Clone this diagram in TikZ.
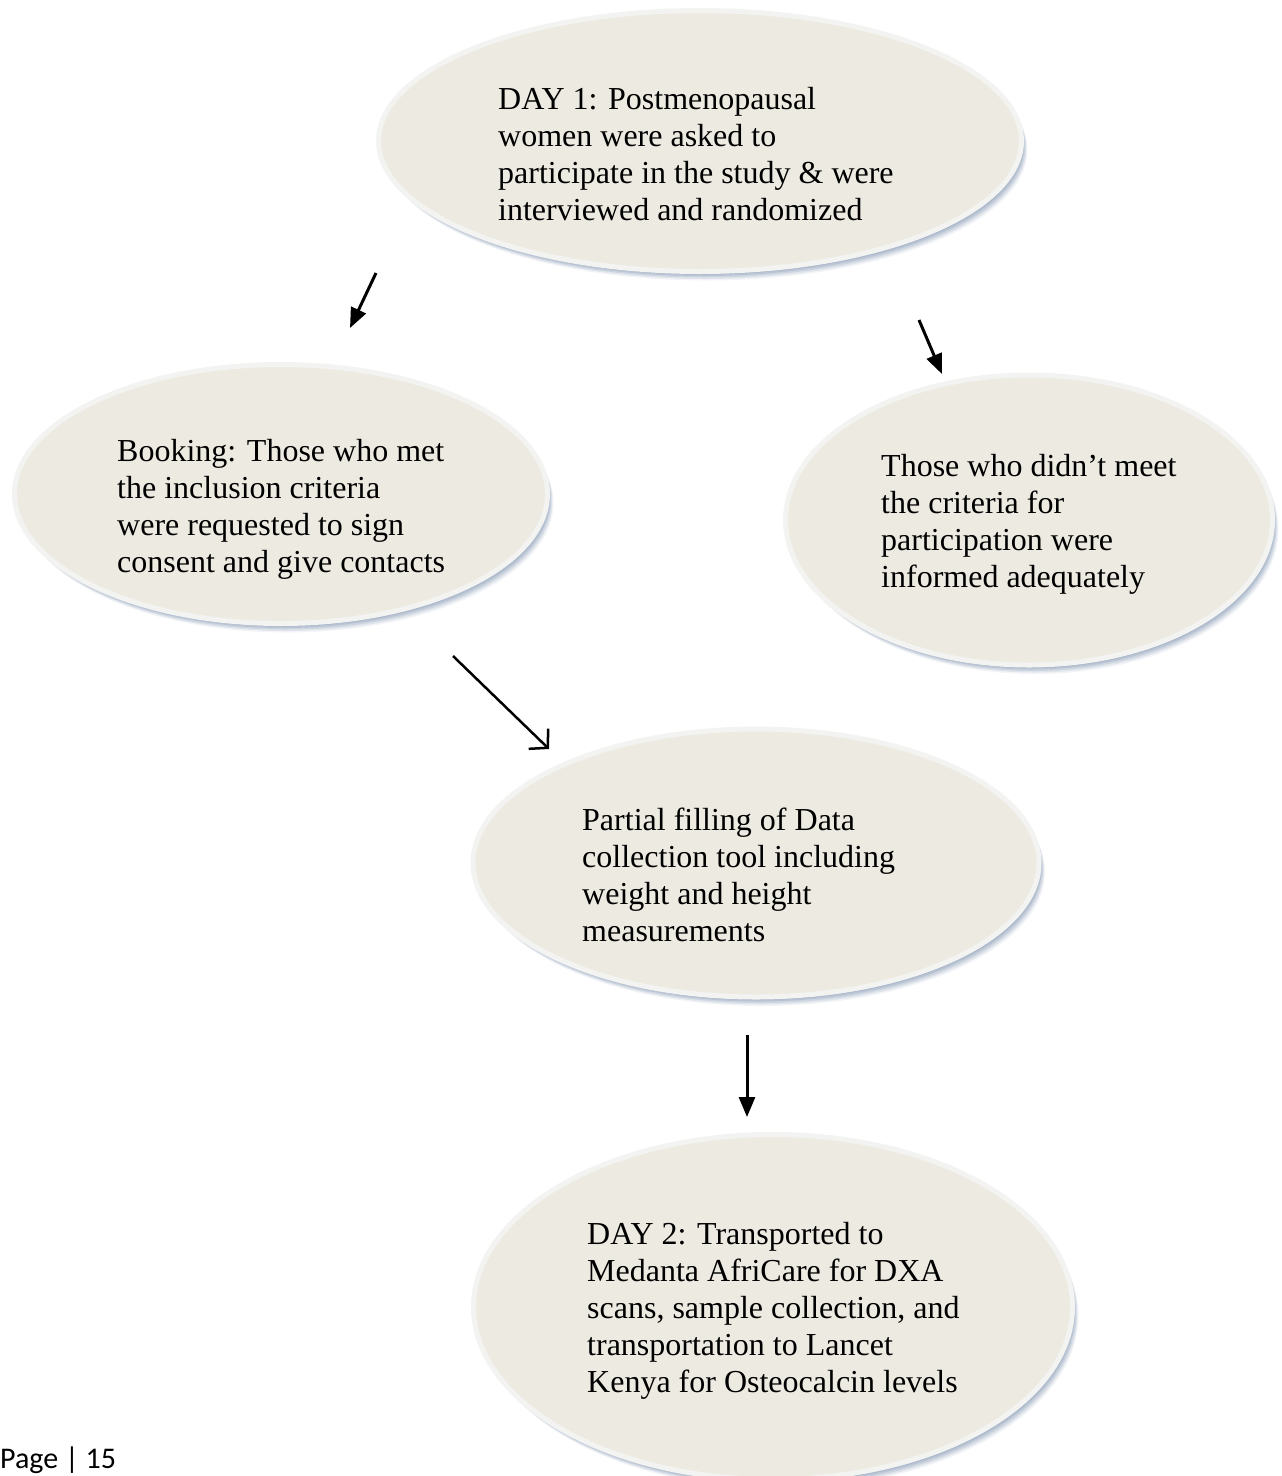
\documentclass[tikz,border=0pt]{standalone}
\usepackage{fontspec}
\setmainfont{Liberation Serif}
\newfontfamily\pagefont{Carlito}
\usetikzlibrary{arrows.meta,shapes.geometric,shadows}
\definecolor{ellfill}{HTML}{EDEBE1}
\definecolor{ellrim}{HTML}{F3F3F2}
\definecolor{shadowc}{HTML}{7389A8}
\tikzset{
  bubble/.style={ellipse, inner sep=0pt, fill=ellfill, draw=ellrim, line width=5pt,
    general shadow={shadow xshift=1pt, shadow yshift=-1.5pt, fill=shadowc, opacity=0.22},
    general shadow={shadow xshift=2pt, shadow yshift=-3pt, fill=shadowc, opacity=0.22},
    general shadow={shadow xshift=3pt, shadow yshift=-4.5pt, fill=shadowc, opacity=0.22},
    general shadow={shadow xshift=4pt, shadow yshift=-6pt, fill=shadowc, opacity=0.18},
    general shadow={shadow xshift=5pt, shadow yshift=-7.5pt, fill=shadowc, opacity=0.14},
    general shadow={shadow xshift=6pt, shadow yshift=-9pt, fill=shadowc, opacity=0.09}},
  txt/.style={anchor=base west, inner sep=0pt, font=\fontsize{32}{37}\selectfont},
  flow/.style={line width=3pt, -{Triangle[length=20pt,width=16pt]}},
  flowopen/.style={line width=2.5pt, -{Straight Barb[length=13pt,width=28pt,line width=2.5pt]}}
}
\begin{document}
\begin{tikzpicture}[x=1pt,y=-1pt]
\useasboundingbox (0,0) rectangle (1282,1476);
% ellipses
\node[bubble, minimum width=643pt, minimum height=261pt] (e1) at (700,141) {};
\node[bubble, minimum width=533pt, minimum height=259pt] (e2) at (281,494) {};
\node[bubble, minimum width=487pt, minimum height=290pt] (e3) at (1029,520) {};
\node[bubble, minimum width=566pt, minimum height=268pt] (e4) at (756,863) {};
\node[bubble, minimum width=599pt, minimum height=345pt] (e5) at (773,1307) {};
% texts
\node[txt] (t1) at (498,109) {\begin{tabular}[t]{@{}l@{}}DAY 1: Postmenopausal\\women were asked to\\participate in the study \& were\\interviewed and randomized\end{tabular}};
\node[txt] (t2) at (117,461) {\begin{tabular}[t]{@{}l@{}}Booking: Those who met\\the inclusion criteria\\were requested to sign\\consent and give contacts\end{tabular}};
\node[txt] (t3) at (881,476) {\begin{tabular}[t]{@{}l@{}}Those who didn’t meet\\the criteria for\\participation were\\informed adequately\end{tabular}};
\node[txt] (t4) at (582,830) {\begin{tabular}[t]{@{}l@{}}Partial filling of Data\\collection tool including\\weight and height\\measurements\end{tabular}};
\node[txt] (t5) at (587,1244) {\begin{tabular}[t]{@{}l@{}}DAY 2: Transported to\\Medanta AfriCare for DXA\\scans, sample collection, and\\transportation to Lancet\\Kenya for Osteocalcin levels\end{tabular}};
\node[anchor=base west, inner sep=0pt, font=\pagefont\fontsize{30}{36}\selectfont] (pg) at (0,1468) {Page | 15};
% arrows
\coordinate (a1s) at (376,273); \coordinate (a1e) at (350,328);
\coordinate (a2s) at (919,320); \coordinate (a2e) at (942,374);
\coordinate (a3s) at (453,656); \coordinate (a3e) at (549,749);
\coordinate (a4s) at (747,1035); \coordinate (a4e) at (747,1117);
\draw[flow] (a1s) -- (a1e);
\draw[flow] (a2s) -- (a2e);
\draw[flowopen] (a3s) -- (a3e);
\draw[flow] (a4s) -- (a4e);
\end{tikzpicture}
\end{document}
